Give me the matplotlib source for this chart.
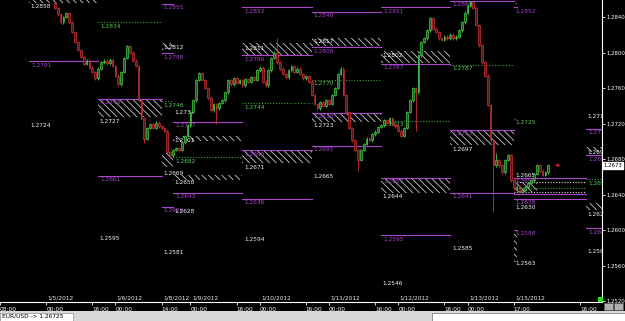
import matplotlib
matplotlib.use('Agg')
import matplotlib.pyplot as plt
from matplotlib.patches import Rectangle
from matplotlib.transforms import blended_transform_factory

# EUR/USD hourly bars. x = trading hours, 0 = 1/5/2012 00:00 (weekend skipped)
first_hour = 3
first_open = 1.2856
closes = [
    1.2850, 1.2843, 1.2834, 1.2840, 1.2844, 1.2834, 1.2823, 1.2812, 1.2803, 1.2795,
    1.2787, 1.2791, 1.2783, 1.2778, 1.2771, 1.2782, 1.2789, 1.2791, 1.2788, 1.2792,
    1.2785, 1.2774, 1.2764, 1.2778, 1.2794, 1.2807, 1.2800, 1.2791, 1.2785, 1.2746,
    1.2726, 1.2703, 1.2715, 1.2719, 1.2715, 1.2721, 1.2717, 1.2715, 1.2712, 1.2688,
    1.2684, 1.2690, 1.2692, 1.2690, 1.2699, 1.2706, 1.2718, 1.2733, 1.2746, 1.2769,
    1.2777, 1.2769, 1.2760, 1.2749, 1.2735, 1.2742, 1.2737, 1.2743, 1.2746, 1.2755,
    1.2769, 1.2764, 1.2771, 1.2766, 1.2769, 1.2763, 1.2770, 1.2767, 1.2772, 1.2769,
    1.2780, 1.2783, 1.2767, 1.2763, 1.2780, 1.2794, 1.2800, 1.2789, 1.2782, 1.2776,
    1.2772, 1.2780, 1.2785, 1.2778, 1.2782, 1.2776, 1.2771, 1.2773, 1.2767, 1.2752,
    1.2742, 1.2737, 1.2744, 1.2740, 1.2746, 1.2742, 1.2752, 1.2760, 1.2776, 1.2782,
    1.2752, 1.2733, 1.2715, 1.2701, 1.2690, 1.2679, 1.2690, 1.2697, 1.2703, 1.2701,
    1.2708, 1.2711, 1.2716, 1.2718, 1.2724, 1.2721, 1.2726, 1.2719, 1.2717, 1.2712,
    1.2706, 1.2715, 1.2733, 1.2746, 1.2760, 1.2755, 1.2797, 1.2812, 1.2816, 1.2825,
    1.2839, 1.2827, 1.2823, 1.2816, 1.2814, 1.2818, 1.2816, 1.2820, 1.2816, 1.2818,
    1.2825, 1.2834, 1.2845, 1.2853, 1.2857, 1.2850, 1.2831, 1.2808, 1.2789, 1.2774,
    1.2741, 1.2701, 1.2673, 1.2679, 1.2673, 1.2665, 1.2679, 1.2684, 1.2656, 1.2647,
    1.2649, 1.2643, 1.2645, 1.2648, 1.2653, 1.2656, 1.2663, 1.2673, 1.2667, 1.2662,
    1.2665, 1.2673,
]
# long wicks (hour -> price)
wick_hi = {80: 1.2816, 156: 1.2687}
wick_lo = {34: 1.2698, 59: 1.2720, 108: 1.2667, 128: 1.2712, 155: 1.2622}

time_ticks = [-16, 0, 16, 24, 40, 50, 66, 74, 90, 98, 114, 122, 138, 146, 162, 185]
time_labels = ['08:00', '00:00', '16:00', '00:00', '14:00', '00:00', '16:00', '00:00',
               '16:00', '00:00', '16:00', '00:00', '16:00', '00:00', '17:00', '16:00']
date_ticks = [0, 24, 40, 50, 74, 98, 122, 146, 162]
date_labels = ['1/5/2012', '1/6/2012', '1/8/2012', '1/9/2012', '1/10/2012',
               '1/11/2012', '1/12/2012', '1/13/2012', '1/15/2012']
price_ticks = [1.2520, 1.2560, 1.2600, 1.2640, 1.2680, 1.2720, 1.2760, 1.2800, 1.2840]

# daily levels: (start hour, end hour, price, label)
purple_levels = [
    (-6, 18, 1.2790, '1.2791'),
    (18, 40, 1.2748, '1.2748'), (18, 40, 1.2661, '1.2661'),
    (40, 44, 1.2855, '1.2855'), (40, 44, 1.2799, '1.2798'), (40, 44, 1.2626, '1.2626'),
    (44, 68, 1.2722, '1.2727'), (44, 68, 1.2642, '1.2643'),
    (68, 92, 1.2851, '1.2852'), (68, 92, 1.2797, '1.2796'), (68, 92, 1.2690, '1.2690'),
    (68, 92, 1.2635, '1.2636'),
    (92, 116, 1.2846, '1.2846'), (92, 116, 1.2806, '1.2808'), (92, 116, 1.2732, '1.2733'),
    (92, 116, 1.2695, '1.2695'),
    (116, 140, 1.2851, '1.2851'), (116, 140, 1.2787, '1.2787'), (116, 140, 1.2659, '1.2657'),
    (116, 140, 1.2594, '1.2595'),
    (140, 162, 1.2858, '1.2860'), (140, 162, 1.2713, '1.2713'), (140, 162, 1.2642, '1.2641'),
    (162, 163, 1.2851, '1.2852'), (162, 187, 1.2659, '1.2659'), (162, 187, 1.2641, ''),
    (162, 187, 1.2635, '1.2638'), (162, 163, 1.2600, '1.2598'),
    (187, 196, 1.2714, '1.2714'), (187, 196, 1.2684, '1.2688'), (187, 196, 1.2602, '1.2601'),
]
green_levels = [
    (18, 40, 1.2834, '1.2834'), (40, 44, 1.2745, '1.2746'), (44, 68, 1.2682, '1.2682'),
    (68, 92, 1.2743, '1.2744'), (92, 116, 1.2769, '1.2770'), (116, 140, 1.2723, '1.2723'),
    (140, 162, 1.2786, '1.2787'), (162, 163, 1.2725, '1.2725'), (162, 187, 1.2647, ''),
    (187, 196, 1.2657, '1.2655'),
]
white_dot_levels = [(162, 187, 1.2654), (162, 187, 1.2643)]
# hatched zones: (start, end, top, bottom)
zones = [
    (-6, 18, 1.2860, 1.2856), (18, 40, 1.2748, 1.2727),
    (40, 44, 1.2811, 1.2803), (40, 44, 1.2687, 1.2671),
    (44, 68, 1.2706, 1.2700), (44, 68, 1.2662, 1.2656),
    (68, 92, 1.2811, 1.2797), (68, 92, 1.2690, 1.2675),
    (92, 116, 1.2816, 1.2807), (92, 116, 1.2732, 1.2722),
    (116, 140, 1.2802, 1.2788), (116, 140, 1.2659, 1.2642),
    (140, 162, 1.2713, 1.2696),
    (162, 163, 1.2856, 1.2851), (162, 170, 1.2653, 1.2643), (162, 163, 1.2600, 1.2564),
    (187, 196, 1.2694, 1.2688), (187, 196, 1.2630, 1.2623),
]
# plain white labels: (start, price, text)
white_labels = [
    (-6, 1.2852, '1.2858'), (-6, 1.2718, '1.2724'),
    (18, 1.2722, '1.2727'), (18, 1.2590, '1.2595'),
    (40, 1.2806, '1.2812'), (40, 1.2664, '1.2669'), (40, 1.2575, '1.2581'),
    (44, 1.2732, '1.2737'), (44, 1.2701, '1.2701'), (44, 1.2653, '1.2658'), (44, 1.2621, '1.2628'),
    (68, 1.2805, '1.2811'), (68, 1.2671, '1.2671'), (68, 1.2589, '1.2594'),
    (92, 1.2812, '1.2817'), (92, 1.2718, '1.2723'), (92, 1.2660, '1.2665'),
    (116, 1.2797, '1.2802'), (116, 1.2638, '1.2644'), (116, 1.2540, '1.2546'),
    (140, 1.2691, '1.2697'), (140, 1.2579, '1.2585'),
    (162, 1.2661, '1.2665'), (162, 1.2625, '1.2630'), (162, 1.2562, '1.2563'),
    (187, 1.2728, '1.2713'), (187, 1.2687, '1.2691'), (187, 1.2618, '1.2621'), (187, 1.2576, '1.2581'),
]

PURPLE = '#a846cc'
GREEN = '#5cc85c'
FS = 4.2

plt.rcParams['hatch.linewidth'] = 0.6
fig = plt.figure(figsize=(6.25, 3.21), dpi=100, facecolor='black')
ax = fig.add_axes([0, 19 / 321, 602 / 625, 302 / 321], facecolor='black')

# hatched zones
for x0, x1, top, bot in zones:
    ax.add_patch(Rectangle((x0, bot), x1 - x0, top - bot, facecolor='black',
                           edgecolor='#c8c8c8', hatch='\\' * 5, lw=0, zorder=1))

def level(x0, x1, p, lab, col, ls, tcol):
    ax.plot([x0, x1], [p, p], color=col, lw=0.8, ls=ls, zorder=1.5)
    if lab:
        ax.annotate(lab, (x0, p), xytext=(1.5, -1), textcoords='offset points',
                    color=tcol, fontsize=FS, va='top', ha='left', zorder=2,
                    annotation_clip=True, clip_on=True)

for x0, x1, p, lab in purple_levels:
    level(x0, x1, p, lab, PURPLE, '-', PURPLE)
for x0, x1, p, lab in green_levels:
    level(x0, x1, p, lab, '#3f9f3f', (0, (1, 1.5)), GREEN)
for x0, x1, p in white_dot_levels:
    level(x0, x1, p, '', '#dddddd', (0, (1, 1.5)), 'white')
for x0, p, lab in white_labels:
    ax.text(x0 + 0.6, p, lab, color='#f2f2f2', fontsize=FS, va='center', ha='left',
            zorder=2, clip_on=True)

# candles
hours = list(range(first_hour, first_hour + len(closes)))
opens = [first_open] + closes[:-1]
highs, lows, bottoms, heights, faces, edges = [], [], [], [], [], []
for h, o, c in zip(hours, opens, closes):
    up = c >= o
    highs.append(wick_hi.get(h, max(o, c) + 0.00015))
    lows.append(wick_lo.get(h, min(o, c) - 0.00015))
    bottoms.append(min(o, c))
    heights.append(max(abs(c - o), 0.00006))
    faces.append('#1d5c1d' if up else '#5c1414')
    edges.append('#48c848' if up else '#cc3030')
ax.vlines(hours, lows, highs, colors=edges, lw=0.6, zorder=3)
ax.bar(hours, heights, bottom=bottoms, width=0.62, color=faces, edgecolor=edges,
       linewidth=0.5, zorder=3.5)

# current price marker
last_h, last = hours[-1], closes[-1]
ax.annotate('', xy=(last_h + 1.3, last), xytext=(last_h + 4.8, last),
            arrowprops=dict(arrowstyle='->', color='#d02020', lw=0.8, mutation_scale=5))
ax.text(1.003, last, '%.4f' % last, transform=blended_transform_factory(ax.transAxes, ax.transData),
        color='black', fontsize=3.9, va='center', ha='left', clip_on=False,
        bbox=dict(boxstyle='square,pad=0.15', fc='white', ec='white'))

ax.set_xlim(-15.56, 192.6)
ax.set_ylim(1.25189, 1.28592)

for s in ['left', 'top']:
    ax.spines[s].set_visible(False)
for s in ['right', 'bottom']:
    ax.spines[s].set_color('white')
    ax.spines[s].set_linewidth(0.8)

ax.yaxis.tick_right()
ax.set_yticks(price_ticks)
ax.set_yticklabels(['%.4f' % p for p in price_ticks])
ax.tick_params(axis='y', colors='white', labelsize=3.9, length=2, width=0.6, pad=1.5)
ax.set_xticks(time_ticks)
ax.set_xticklabels(time_labels)
ax.tick_params(axis='x', colors='white', labelsize=FS, length=2.5, width=0.6, pad=1)
for t in ax.get_xticklabels():
    t.set_ha('left')

tr = blended_transform_factory(ax.transData, ax.transAxes)
for h, d in zip(date_ticks, date_labels):
    ax.text(h + 0.5, 0.006, d, transform=tr, color='#e8e8e8', fontsize=FS,
            va='bottom', ha='left')

# status bar
fig.patches.append(Rectangle((0, 0), 1, 10 / 321, transform=fig.transFigure,
                             facecolor='#d8d8d8', edgecolor='none'))
fig.patches.append(Rectangle((0, 0.5 / 321), 73 / 625, 8 / 321, transform=fig.transFigure,
                             facecolor='white', edgecolor='#909090', lw=0.5))
fig.patches.append(Rectangle((432 / 625, 0.5 / 321), 193 / 625, 8 / 321, transform=fig.transFigure,
                             facecolor='white', edgecolor='#707070', lw=0.5))
fig.text(2 / 625, 4.5 / 321, 'EUR/USD -> 1.26725', color='black', fontsize=FS, va='center')
fig.patches.append(Rectangle((598 / 625, 19 / 321), 5 / 625, 5 / 321, transform=fig.transFigure,
                             facecolor='#20e020', edgecolor='none'))
fig.patches.append(Rectangle((604 / 625, 11 / 321), 9 / 625, 7 / 321, transform=fig.transFigure,
                             facecolor='#b0b0b0', edgecolor='#606060', lw=0.4))
fig.patches.append(Rectangle((614 / 625, 11 / 321), 9 / 625, 7 / 321, transform=fig.transFigure,
                             facecolor='#b0b0b0', edgecolor='#606060', lw=0.4))

fig.savefig('out.png', dpi=100, facecolor='black')
